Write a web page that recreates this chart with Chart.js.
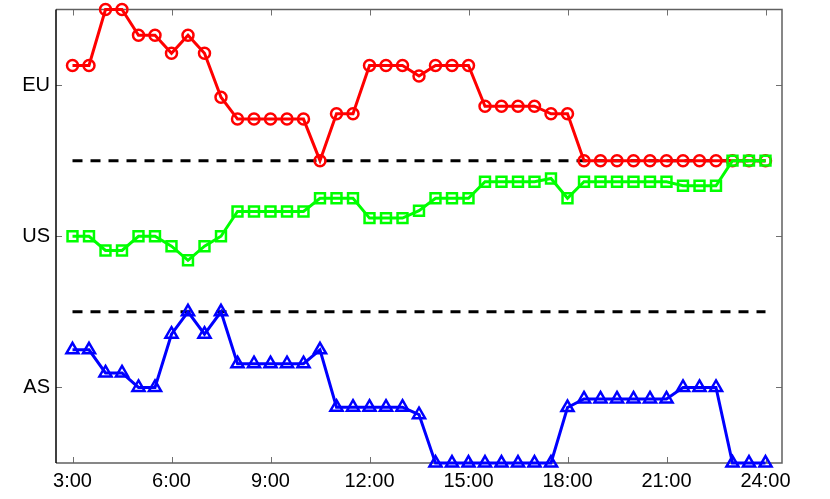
<!DOCTYPE html>
<html>
<head>
<meta charset="utf-8">
<script src="https://cdn.jsdelivr.net/npm/chart.js@4.4.1/dist/chart.umd.min.js"></script>
<style>
    html, body { margin: 0; padding: 0; background: #ffffff; }
    canvas { display: block; }
</style>
</head>
<body>
<canvas id="regionChart" width="830" height="499"></canvas>
<script>
const hours = [
    3, 3.5, 4, 4.5, 5, 5.5, 6, 6.5, 7, 7.5, 8, 8.5, 9, 9.5, 10, 10.5,
    11, 11.5, 12, 12.5, 13, 13.5, 14, 14.5, 15, 15.5, 16, 16.5, 17, 17.5,
    18, 18.5, 19, 19.5, 20, 20.5, 21, 21.5, 22, 22.5, 23, 23.5, 24
];
const euLevels = [
    3.13, 3.13, 3.5, 3.5, 3.33, 3.33, 3.21, 3.33, 3.21, 2.92, 2.775, 2.775, 2.775, 2.775, 2.775, 2.5,
    2.81, 2.81, 3.13, 3.13, 3.13, 3.06, 3.13, 3.13, 3.13, 2.86, 2.86, 2.86, 2.86, 2.81,
    2.81, 2.5, 2.5, 2.5, 2.5, 2.5, 2.5, 2.5, 2.5, 2.5, 2.5, 2.5, 2.5
];
const usLevels = [
    2.0, 2.0, 1.906, 1.906, 2.0, 2.0, 1.934, 1.841, 1.934, 2.0, 2.164, 2.164, 2.164, 2.164, 2.164, 2.251,
    2.251, 2.251, 2.12, 2.12, 2.12, 2.169, 2.251, 2.251, 2.251, 2.361, 2.361, 2.361, 2.361, 2.382,
    2.251, 2.361, 2.361, 2.361, 2.361, 2.361, 2.361, 2.334, 2.334, 2.334, 2.5, 2.5, 2.5
];
const asLevels = [
    1.249, 1.249, 1.096, 1.096, 1.0, 1.0, 1.352, 1.5, 1.352, 1.5, 1.157, 1.157, 1.157, 1.157, 1.157, 1.249,
    0.869, 0.869, 0.869, 0.869, 0.869, 0.82, 0.5, 0.5, 0.5, 0.5, 0.5, 0.5, 0.5, 0.5,
    0.867, 0.924, 0.924, 0.924, 0.924, 0.924, 0.924, 1.0, 1.0, 1.0, 0.5, 0.5, 0.5
];
const regionTicks = [1, 2, 3];
const regionNames = ["AS", "US", "EU"];
const hourTicks = [3, 6, 9, 12, 15, 18, 21, 24];
const dividerLevels = [1.5, 2.5];
const dividerSpan = [3, 24];

function toPoints(values) {
    return hours.map((hour, i) => ({ x: hour, y: values[i] }));
}

function seriesDataset(label, values, colour, pointStyle, radius, order) {
    return {
        label,
        data: toPoints(values),
        borderColor: colour,
        backgroundColor: "rgba(0,0,0,0)",
        borderWidth: 3,
        pointStyle,
        pointRadius: radius,
        pointBorderWidth: 2.5,
        pointBorderColor: colour,
        pointBackgroundColor: "rgba(0,0,0,0)",
        tension: 0,
        clip: false,
        order
    };
}

function dividerDataset(level) {
    return {
        label: "divider " + level,
        data: dividerSpan.map((hour) => ({ x: hour, y: level })),
        borderColor: "#000000",
        borderWidth: 3,
        borderDash: [10, 8],
        pointRadius: 0,
        tension: 0,
        order: 5
    };
}

// inward tick marks and the axes box, drawn under the data
const frameTicks = {
    id: "frameTicks",
    beforeDatasetsDraw(chart) {
        const { ctx, chartArea: area, scales } = chart;

        ctx.save();
        ctx.lineWidth = 1;
        ctx.strokeStyle = "#707070";
        ctx.beginPath();
        hourTicks.forEach((hour) => {
            const x = Math.round(scales.x.getPixelForValue(hour)) + 0.5;
            ctx.moveTo(x, area.bottom);
            ctx.lineTo(x, area.bottom - 6);
            ctx.moveTo(x, area.top);
            ctx.lineTo(x, area.top + 6);
        });
        regionTicks.forEach((level) => {
            const y = Math.round(scales.y.getPixelForValue(level)) + 0.5;
            ctx.moveTo(area.left, y);
            ctx.lineTo(area.left + 6, y);
            ctx.moveTo(area.right, y);
            ctx.lineTo(area.right - 6, y);
        });
        ctx.stroke();

        ctx.lineWidth = 1.5;
        ctx.strokeStyle = "#606060";
        ctx.beginPath();
        ctx.moveTo(area.left, area.top);
        ctx.lineTo(area.right, area.top);
        ctx.lineTo(area.right, area.bottom);
        ctx.lineTo(area.left, area.bottom);
        ctx.stroke();

        ctx.strokeStyle = "#000000";
        ctx.beginPath();
        ctx.moveTo(area.left, area.top);
        ctx.lineTo(area.left, area.bottom);
        ctx.stroke();
        ctx.restore();
    }
};

new Chart(document.getElementById("regionChart"), {
    type: "line",
    data: {
        datasets: [
            seriesDataset("US", usLevels, "#00ff00", "rect", 7, 0),
            seriesDataset("EU", euLevels, "#ff0000", "circle", 5.5, 1),
            seriesDataset("AS", asLevels, "#0000ff", "triangle", 7, 2),
            ...dividerLevels.map(dividerDataset)
        ]
    },
    options: {
        responsive: false,
        animation: false,
        devicePixelRatio: 1,
        layout: {
            padding: { top: 6, right: 48, left: 0, bottom: 0 }
        },
        plugins: {
            legend: { display: false },
            tooltip: { enabled: false }
        },
        scales: {
            x: {
                type: "linear",
                min: 2.5,
                max: 24.5,
                afterBuildTicks: (scale) => {
                    scale.ticks = hourTicks.map((value) => ({ value }));
                },
                afterFit: (scale) => {
                    scale.height = 36;
                    scale.paddingLeft = 0;
                    scale.paddingRight = 0;
                },
                grid: { display: false, drawTicks: false },
                border: { display: false },
                ticks: {
                    autoSkip: false,
                    maxRotation: 0,
                    padding: 6,
                    color: "#000000",
                    font: { family: "'Liberation Sans', Arial, sans-serif", size: 20 },
                    callback: (value) => value + ":00"
                }
            },
            y: {
                type: "linear",
                min: 0.5,
                max: 3.5,
                afterBuildTicks: (scale) => {
                    scale.ticks = regionTicks.map((value) => ({ value }));
                },
                afterFit: (scale) => {
                    scale.width = 56;
                    scale.paddingTop = 0;
                    scale.paddingBottom = 0;
                },
                grid: { display: false, drawTicks: false },
                border: { display: false },
                ticks: {
                    padding: 6,
                    color: "#000000",
                    font: { family: "'Liberation Sans', Arial, sans-serif", size: 20 },
                    callback: (value) => regionNames[regionTicks.indexOf(value)]
                }
            }
        }
    },
    plugins: [frameTicks]
});
</script>
</body>
</html>
